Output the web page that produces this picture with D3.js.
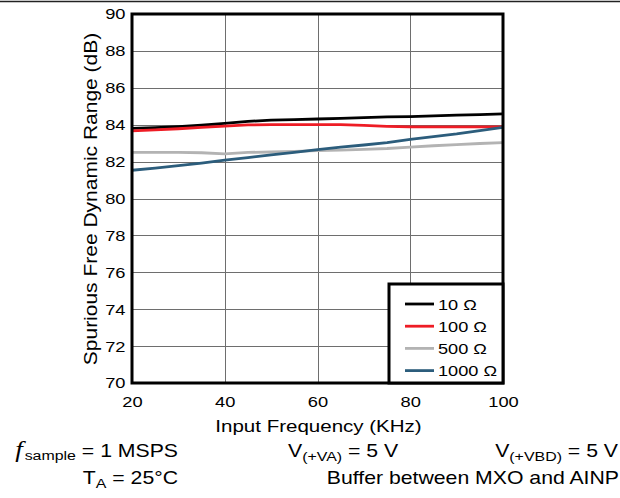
<!DOCTYPE html>
<html>
<head>
<meta charset="utf-8">
<script src="https://cdn.jsdelivr.net/npm/d3@7"></script>
<style>
  body { margin: 0; background: #fff; }
  svg { display: block; }
  text { font-family: "Liberation Sans", Arial, Helvetica, sans-serif; fill: #000; }
</style>
</head>
<body>
<svg id="chart" width="620" height="498"></svg>
<script>
// Input frequency (kHz)
const freq = [20, 25, 30, 35, 40, 45, 50, 55, 60, 65, 70, 75, 80, 85, 90, 95, 100];
// SFDR (dB) for each source resistance
const sfdr10   = [83.80, 83.84, 83.90, 83.98, 84.07, 84.18, 84.25, 84.28, 84.31, 84.34, 84.38, 84.42, 84.44, 84.48, 84.52, 84.55, 84.59];
const sfdr100  = [83.66, 83.72, 83.78, 83.85, 83.92, 83.99, 84.00, 84.00, 84.00, 84.00, 83.96, 83.91, 83.88, 83.88, 83.88, 83.88, 83.88];
const sfdr500  = [82.50, 82.50, 82.50, 82.48, 82.42, 82.50, 82.52, 82.55, 82.59, 82.62, 82.66, 82.71, 82.79, 82.86, 82.92, 82.98, 83.03];
const sfdr1000 = [81.53, 81.65, 81.78, 81.92, 82.08, 82.22, 82.36, 82.50, 82.65, 82.78, 82.90, 83.03, 83.20, 83.35, 83.50, 83.68, 83.86];

const seriesNames = ["10 Ω", "100 Ω", "500 Ω", "1000 Ω"];
const seriesColors = ["#000000", "#ee1c25", "#b3b3b3", "#2c5d7c"];
const seriesValues = [sfdr10, sfdr100, sfdr500, sfdr1000];

const xTicks = [20, 40, 60, 80, 100];
const yTicks = [70, 72, 74, 76, 78, 80, 82, 84, 86, 88, 90];

const svg = d3.select("#chart");
const plotL = 132, plotR = 503, plotT = 14, plotB = 383;
const WIDE = 1.18;   // glyphs are set wide: horizontal stretch along the reading direction

const x = d3.scaleLinear().domain([20, 100]).range([plotL, plotR]);
const y = d3.scaleLinear().domain([70, 90]).range([plotB, plotT]);

// wide text placed at (px, py); optional rotation
function wideText(parent, px, py, size, anchor, rot = 0) {
  return parent.append("g")
    .attr("transform", `translate(${px},${py}) rotate(${rot}) scale(${WIDE},1)`)
    .append("text").attr("font-size", size).attr("text-anchor", anchor);
}
function sub(t, main, subscript, rest, subSize) {
  t.append("tspan").text(main);
  t.append("tspan").attr("font-size", subSize).attr("dy", 4).text(subscript);
  t.append("tspan").attr("dy", -4).text(rest);
}

// rule across the top of the page
svg.append("line").attr("x1", 0).attr("x2", 620).attr("y1", 1.5).attr("y2", 1.5)
  .attr("stroke", "#222").attr("stroke-width", 1.5);

// grid
const grid = svg.append("g");
grid.selectAll("line.gx").data(xTicks.slice(1, -1)).join("line")
  .attr("x1", d => Math.round(x(d)) + 0.5).attr("x2", d => Math.round(x(d)) + 0.5)
  .attr("y1", plotT).attr("y2", plotB).attr("stroke", "#6e6e6e").attr("stroke-width", 1);
grid.selectAll("line.gy").data(yTicks.slice(1, -1)).join("line")
  .attr("y1", d => Math.round(y(d)) + 0.5).attr("y2", d => Math.round(y(d)) + 0.5)
  .attr("x1", plotL).attr("x2", plotR).attr("stroke", "#6e6e6e").attr("stroke-width", 1);

// axes (labels only; the frame is drawn separately)
const xAxis = svg.append("g").attr("transform", `translate(0,${plotB})`)
  .call(d3.axisBottom(x).tickValues(xTicks).tickSize(0).tickPadding(13));
const yPad = 6.5;
const yAxis = svg.append("g").attr("transform", `translate(${plotL},0)`)
  .call(d3.axisLeft(y).tickValues(yTicks).tickSize(0).tickPadding(yPad));
[xAxis, yAxis].forEach(a => {
  a.select(".domain").remove();
  a.selectAll("text").attr("font-size", 15.5).attr("font-family", "Liberation Sans, Arial, sans-serif")
    .attr("fill", "#000").attr("transform", `scale(${WIDE},1)`);
});
yAxis.selectAll("text").attr("x", -yPad / WIDE);

// series lines
svg.append("clipPath").attr("id", "plotclip").append("rect")
  .attr("x", plotL).attr("y", plotT).attr("width", plotR - plotL).attr("height", plotB - plotT);
const line = d3.line().x((d, i) => x(freq[i])).y(d => y(d));
svg.append("g").attr("clip-path", "url(#plotclip)")
  .selectAll("path").data(seriesValues).join("path")
  .attr("d", d => line(d)).attr("fill", "none")
  .attr("stroke", (d, i) => seriesColors[i]).attr("stroke-width", 2.8)
  .attr("stroke-linejoin", "round");

// plot frame
svg.append("rect").attr("x", plotL).attr("y", plotT).attr("width", plotR - plotL).attr("height", plotB - plotT)
  .attr("fill", "none").attr("stroke", "#000").attr("stroke-width", 3);

// legend
const lg = svg.append("g");
lg.append("rect").attr("x", 389).attr("y", 284).attr("width", plotR - 389).attr("height", plotB - 284)
  .attr("fill", "#fff").attr("stroke", "#000").attr("stroke-width", 3);
seriesNames.forEach((name, i) => {
  const ry = 304 + i * 22.2;
  lg.append("line").attr("x1", 405).attr("x2", 434).attr("y1", ry).attr("y2", ry)
    .attr("stroke", seriesColors[i]).attr("stroke-width", 2.8);
  wideText(lg, 438, ry, 15.4, "start").attr("dy", "0.36em").text(name);
});

// axis titles
wideText(svg, (plotL + plotR) / 2 + 1, 432, 17.4, "middle").text("Input Frequency (KHz)");
wideText(svg, 97, 199, 17.8, "middle", -90).text("Spurious Free Dynamic Range (dB)");

// test conditions
const t1 = wideText(svg, 178, 457, 18, "end");
t1.append("tspan").attr("font-family", "Liberation Serif, Times New Roman, serif")
  .attr("font-style", "italic").attr("font-size", 23).text("f");
t1.append("tspan").attr("font-size", 13.5).attr("dy", 3).attr("dx", 1.5).text("sample");
t1.append("tspan").attr("dy", -3).text(" = 1 MSPS");

sub(wideText(svg, 288, 457, 18, "start"), "V", "(+VA)", " = 5 V", 13.5);
sub(wideText(svg, 618, 457, 18, "end"), "V", "(+VBD)", " = 5 V", 13.5);
sub(wideText(svg, 178, 483.5, 18, "end"), "T", "A", " = 25°C", 13.5);
wideText(svg, 619, 483.5, 18, "end").text("Buffer between MXO and AINP");
</script>
</body>
</html>
